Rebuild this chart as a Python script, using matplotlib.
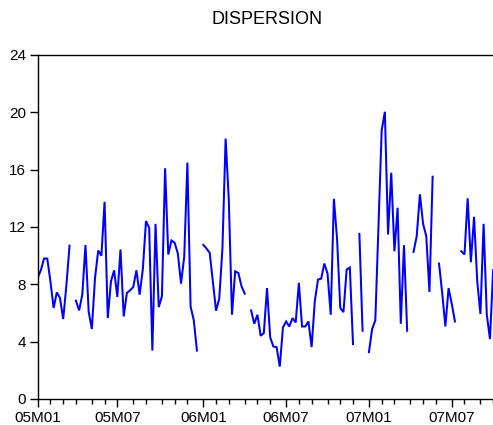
import numpy as np
import pandas as pd
import matplotlib
matplotlib.use("Agg")
import matplotlib.pyplot as plt
from matplotlib.ticker import FixedLocator

plt.rcParams['font.family'] = ['Liberation Sans', 'DejaVu Sans']

title = "DISPERSION"
start_date = "2005-01-07"
nan = np.nan
dispersion = [
    8.45, 9.0, 9.8, 9.8, 8.2, 6.35, 7.44, 7.05, 5.58, 7.9,
    10.7, nan, 6.86, 6.18, 7.28, 10.74, 6.1, 4.88, 8.45, 10.36,
    10.0, 13.76, 5.65, 8.2, 8.98, 7.12, 10.43, 5.76, 7.4, 7.58,
    7.81, 8.98, 7.28, 9.03, 12.41, 11.94, 3.38, 12.22, 6.41, 7.16,
    16.1, 10.08, 11.06, 10.9, 10.15, 8.05, 9.92, 16.49, 6.46, 5.5,
    3.38, nan, 10.75, 10.5, 10.2, 8.2, 6.16, 7.0, 10.5, 18.17,
    13.9, 5.88, 8.91, 8.79, 7.86, 7.35, nan, 6.18, 5.25, 5.88,
    4.41, 4.6, 7.74, 4.3, 3.66, 3.62, 2.26, 4.99, 5.41, 5.06,
    5.64, 5.34, 8.1, 5.06, 5.06, 5.41, 3.62, 6.81, 8.33, 8.4,
    9.45, 8.75, 5.88, 13.97, 11.13, 6.35, 6.06, 9.03, 9.17, 3.83,
    nan, 11.52, 4.76, nan, 3.27, 4.88, 5.48, 12.1, 18.75, 20.04,
    11.48, 15.79, 10.31, 13.34, 5.25, 10.73, 4.76, nan, 10.26, 11.36,
    14.28, 12.22, 11.36, 7.47, 15.51, nan, 9.45, 7.4, 5.06, 7.74,
    6.65, 5.41, nan, 10.31, 10.08, 14.0, 9.54, 12.71, 8.22, 5.93,
    12.22, 5.88, 4.18, 9.0,
]
y_ticks = [0, 4, 8, 12, 16, 20, 24]

dates = pd.date_range(start_date, periods=len(dispersion), freq="W-FRI")
x = np.arange(len(dispersion))
vals = np.array(dispersion, dtype=float)

# month-start observation indices
months = dates.year * 12 + dates.month
month_idx = [0] + [i for i in range(1, len(dates)) if months[i] != months[i - 1]]
major_idx = [i for i in month_idx if dates[i].month in (1, 7)]
minor_idx = [i for i in month_idx if i not in major_idx]
major_labels = [f"{dates[i].year % 100:02d}M{dates[i].month:02d}" for i in major_idx]

W, H = 493, 425
fig = plt.figure(figsize=(W / 100, H / 100), dpi=100)
left_px, right_px, top_px, bottom_px = 37.7, 495.5, 55, 399
ax = fig.add_axes([left_px / W, 1 - bottom_px / H,
                   (right_px - left_px) / W, (bottom_px - top_px) / H])

ax.plot(x, vals, color="#0000ff", lw=1.45, solid_joinstyle="miter")

ax.set_xlim(0, (right_px - left_px) / 3.185)
ax.set_ylim(0, 24)
ax.set_yticks(y_ticks)
ax.set_yticklabels([str(t) for t in y_ticks])
ax.xaxis.set_major_locator(FixedLocator(major_idx))
ax.set_xticklabels(major_labels)
ax.xaxis.set_minor_locator(FixedLocator(minor_idx))

for s in ["left", "bottom", "top"]:
    ax.spines[s].set_linewidth(1.0)
    ax.spines[s].set_color("black")
ax.spines["right"].set_visible(False)

ax.tick_params(axis="x", which="major", direction="out", length=5.5, width=1.0,
               labelsize=11, pad=3.5)
ax.tick_params(axis="x", which="minor", direction="out", length=3.5, width=1.0)
ax.tick_params(axis="y", which="major", direction="out", length=5.5, width=1.0,
               labelsize=11, pad=3)

fig.text((left_px + right_px) / 2 / W, 1 - 20 / H, title, ha="center", va="center",
         fontsize=13)

fig.savefig("out.png", dpi=100)
